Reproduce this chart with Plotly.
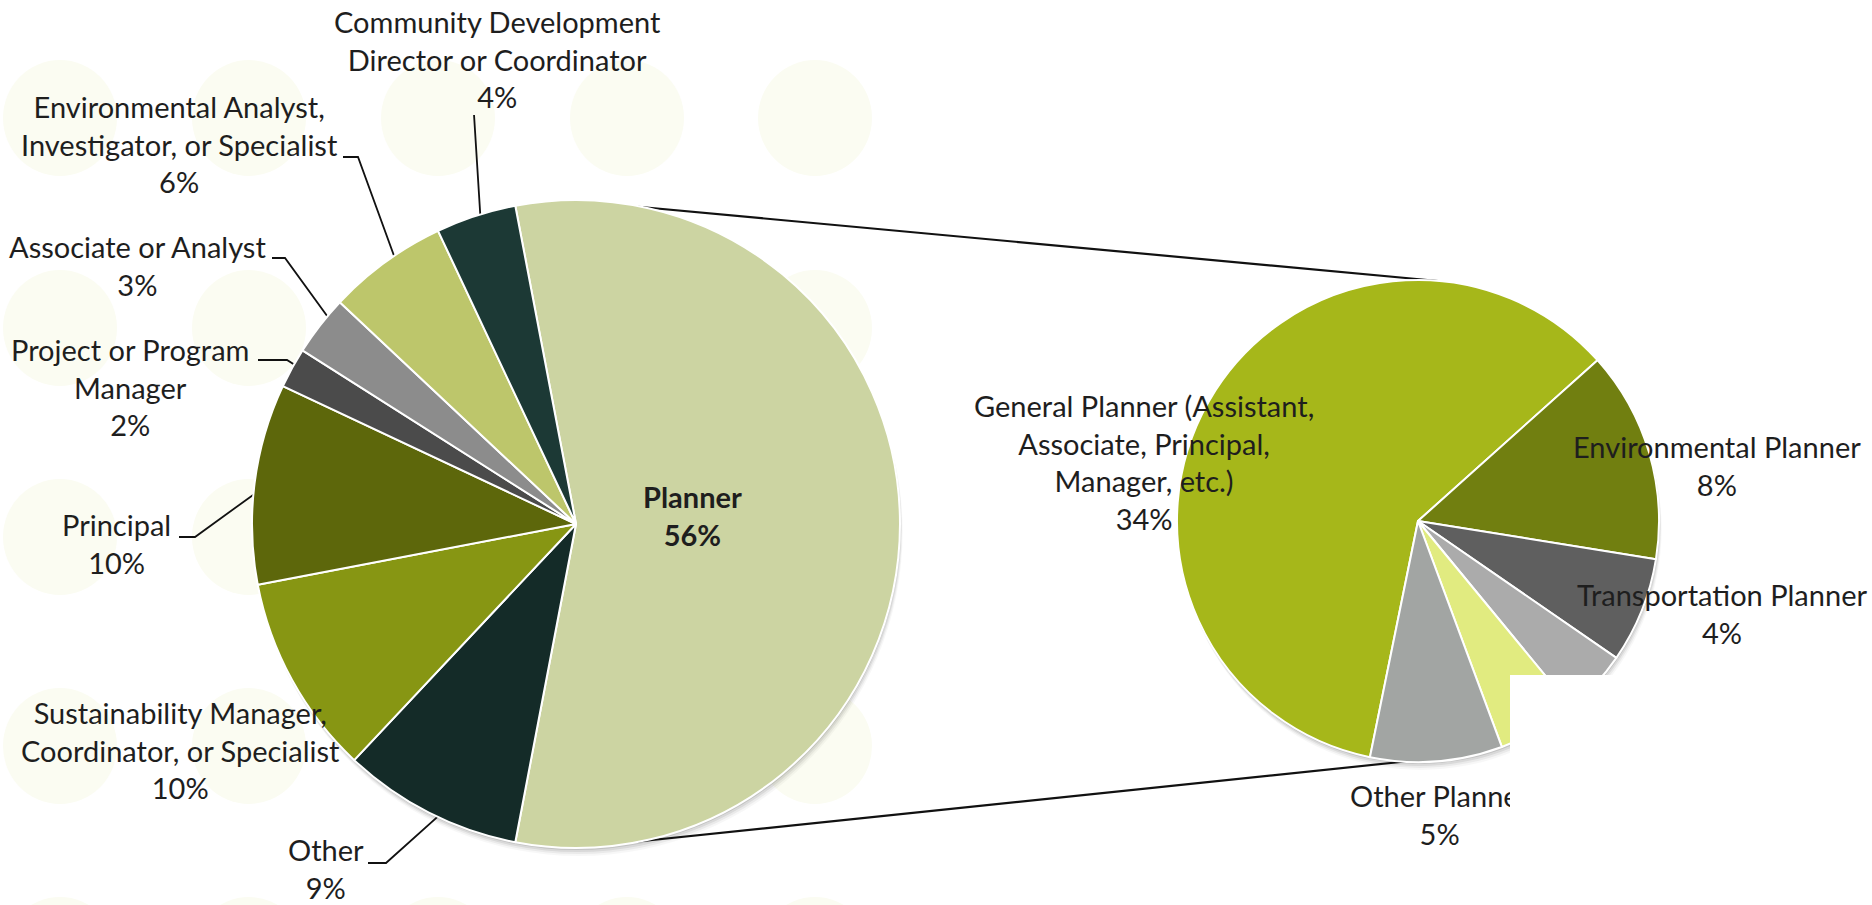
import numpy as np
import plotly.graph_objects as go

W, H = 1872, 905

# ---------------- data ----------------
main_labels = [
    "Planner", "Other", "Sustainability Manager, Coordinator, or Specialist",
    "Principal", "Project or Program Manager", "Associate or Analyst",
    "Environmental Analyst, Investigator, or Specialist",
    "Community Development Director or Coordinator",
]
main_values = [56, 9, 10, 10, 2, 3, 6, 4]
main_text = [
    "Planner", "Other", "Sustainability Manager,<br>Coordinator, or Specialist",
    "Principal", "Project or Program<br>Manager", "Associate or Analyst",
    "Environmental Analyst,<br>Investigator, or Specialist",
    "Community Development<br>Director or Coordinator",
]

planner_labels = [
    "General Planner (Assistant, Associate, Principal, Manager, etc.)",
    "Environmental Planner", "Transportation Planner",
    "Planner subtype A (label hidden)", "Planner subtype B (label hidden)",
    "Other Planner",
]
planner_values = [34, 8, 4, 2.5, 3, 5]
planner_text = [
    "General Planner (Assistant,<br>Associate, Principal,<br>Manager, etc.)",
    "Environmental Planner", "Transportation Planner", None, None, "Other Planner",
]

# ---------------- styles / layout ----------------
main_colors = ["#ccd4a2", "#142b28", "#879613", "#5d670b", "#4b4b4b", "#8c8c8c", "#bdc66b", "#1c3935"]
planner_colors = ["#a6b71a", "#717f10", "#5f5f5f", "#ababab", "#e1eb80", "#a2a5a3"]

FONT = "Lato"
FS = 29
TXT = "#1e1e1e"
DY = -3  # vertical nudge of label blocks

L_C, L_R = (576, 524), 324
R_C, R_R = (1418, 521), 241


def px(x):
    return x / W


def py(y):
    return 1 - y / H


def dom(c, r):
    return dict(x=[px(c[0] - r), px(c[0] + r)], y=[py(c[1] + r), py(c[1] - r)])


main_rot = 90 - main_values[0] / sum(main_values) * 360 / 2

fig = go.Figure()
fig.add_trace(go.Pie(
    labels=main_labels, values=main_values, sort=False, direction="clockwise",
    rotation=main_rot, textinfo="none", domain=dom(L_C, L_R),
    marker=dict(colors=main_colors, line=dict(color="white", width=2)),
    hovertemplate="%{label}: %{value}%<extra></extra>", showlegend=False,
))
fig.add_trace(go.Pie(
    labels=planner_labels, values=planner_values, sort=False, direction="clockwise",
    rotation=191.5, textinfo="none", domain=dom(R_C, R_R),
    marker=dict(colors=planner_colors, line=dict(color="white", width=2)),
    hovertemplate="%{label}: %{value}%<extra></extra>", showlegend=False,
))

shapes = []
# faint decorative dot pattern
for cy in [118, 328, 537, 746, 955]:
    for cx in [60, 249, 438, 627, 815]:
        shapes.append(dict(type="circle", xref="paper", yref="paper", layer="below",
                           x0=px(cx - 57), x1=px(cx + 57), y0=py(cy + 58), y1=py(cy - 58),
                           fillcolor="#fbfcf2", line=dict(width=0)))
# soft drop shadows
for (c, r) in [(L_C, L_R), (R_C, R_R)]:
    for off, a in [(2, 0.10), (4, 0.07), (6, 0.05), (8, 0.03)]:
        shapes.append(dict(type="circle", xref="paper", yref="paper", layer="below",
                           x0=px(c[0] - r + off / 3), x1=px(c[0] + r + off / 3),
                           y0=py(c[1] + r + off), y1=py(c[1] - r + off),
                           fillcolor=f"rgba(0,0,0,{a})", line=dict(width=0)))
# connector lines between pies
for (x0, y0, x1, y1) in [(630, 206, 1438, 281), (633, 842, 1410, 761)]:
    shapes.append(dict(type="line", xref="paper", yref="paper", layer="below",
                       x0=px(x0), y0=py(y0), x1=px(x1), y1=py(y1),
                       line=dict(color="#111111", width=2.2)))

# label positions (px) and leader polylines for main pie
main_pos = [(692, 518), (326, 871), (180, 753), (116, 546), (130, 390), (137, 268), (179, 147), (497, 62)]
leaders = [
    None,
    [(368, 863), (386, 863), (434, 820)],
    None,
    [(179, 537), (195, 537), (264, 487)],
    [(258, 360), (287, 360), (298, 367)],
    [(272, 258), (285, 258), (330, 320)],
    [(343, 157), (358, 157), (393, 253)],
    [(474, 115), (480, 210)],
]
for pts in leaders:
    if not pts:
        continue
    pts = [np.array(p, float) for p in pts]
    d = pts[-1] - pts[-2]
    pts[-1] = pts[-1] + 14 * d / np.linalg.norm(d)
    path = "M " + " L ".join(f"{px(p[0]):.5f},{py(p[1]):.5f}" for p in pts)
    shapes.append(dict(type="path", path=path, xref="paper", yref="paper", layer="below",
                       line=dict(color="#111111", width=1.8)))

annotations = []
for i, (t, v) in enumerate(zip(main_text, main_values)):
    x, y = main_pos[i]
    txt = f"{t}<br>{v}%"
    if i == 0:
        txt = f"<b>{t}<br>{v}%</b>"
    annotations.append(dict(text=txt, x=px(x), y=py(y + DY), xref="paper", yref="paper",
                            xanchor="center", yanchor="middle", showarrow=False, align="center",
                            font=dict(family=FONT, size=FS, color=TXT)))

planner_pos = [(1144, 465), (1717, 468), (1722, 616), None, None, (1440, 817)]
for i, (t, v) in enumerate(zip(planner_text, planner_values)):
    if t is None:
        continue
    x, y = planner_pos[i]
    annotations.append(dict(text=f"{t}<br>{v:g}%", x=px(x), y=py(y + DY), xref="paper", yref="paper",
                            xanchor="center", yanchor="middle", showarrow=False, align="center",
                            font=dict(family=FONT, size=FS, color=TXT)))

# white panel covering the lower-right corner (as in the source image)
annotations.append(dict(text=" ", x=px(1510), y=py(675), xref="paper", yref="paper",
                        xanchor="left", yanchor="top", showarrow=False,
                        width=W - 1510 + 20, height=H - 675 + 20,
                        bgcolor="white", borderwidth=0, borderpad=0))

fig.update_layout(
    width=W, height=H, autosize=False,
    margin=dict(l=0, r=0, t=0, b=0, pad=0),
    paper_bgcolor="white", plot_bgcolor="white",
    shapes=shapes, annotations=annotations,
    font=dict(family=FONT, color=TXT),
)

fig.write_html(
    "out.html",
    config={"displayModeBar": False},
    post_script="document.body.style.margin='0';document.body.style.overflow='hidden';",
)
